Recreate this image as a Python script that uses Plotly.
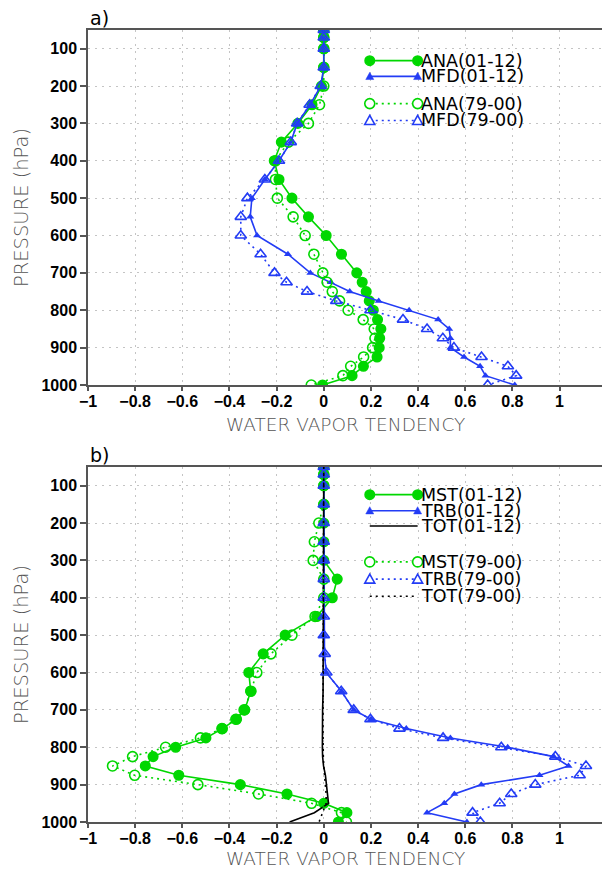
import plotly.graph_objects as go

# ---------------- data ----------------
PRESSURE = [50, 70, 100, 150, 200, 250, 300, 350, 400, 450, 500, 550, 600, 650,
            700, 725, 750, 775, 800, 825, 850, 875, 900, 925, 950, 975, 1000]

# panel a)
ANA_0112 = [0, 0, 0, 0, -0.01, -0.05, -0.11, -0.18, -0.21, -0.19, -0.135, -0.065, 0.01, 0.075,
            0.14, 0.163, 0.18, 0.193, 0.21, 0.228, 0.242, 0.237, 0.235, 0.226, 0.168, 0.12, -0.005]
MFD_0112 = [0, 0, 0, 0, -0.013, -0.058, -0.113, -0.14, -0.19, -0.25, -0.305, -0.312, -0.283, -0.152,
            -0.057, 0.03, 0.11, 0.233, 0.362, 0.485, 0.532, 0.537, 0.537, 0.595, 0.663, 0.686, 0.81]
ANA_7900 = [0, 0, 0, 0, 0, -0.018, -0.065, -0.15, -0.205, -0.205, -0.197, -0.13, -0.079, -0.042,
            -0.004, 0.014, 0.036, 0.067, 0.103, 0.167, 0.214, 0.217, 0.207, 0.169, 0.114, 0.081, -0.053]
MFD_7900 = [0, 0, 0, 0, -0.013, -0.06, -0.113, -0.14, -0.19, -0.25, -0.324, -0.352, -0.352, -0.268,
            -0.209, -0.158, -0.071, 0.053, 0.198, 0.336, 0.438, 0.505, 0.552, 0.669, 0.781, 0.816, 0.695]

# panel b)
MST_0112 = [0, 0, 0, 0, 0, 0, 0, 0.057, 0.036, -0.03, -0.164, -0.257, -0.318, -0.31,
            -0.335, -0.37, -0.43, -0.5, -0.628, -0.724, -0.757, -0.615, -0.354, -0.156, 0.0, 0.098, 0.062]
TRB_0112 = [0, 0, 0, 0, 0, 0, 0, 0, 0, 0, 0, 0.003, 0.01, 0.075,
            0.127, 0.2, 0.35, 0.537, 0.78, 0.975, 1.038, 0.915, 0.668, 0.554, 0.511, 0.438, 0.607]
TOT_0112 = [0, 0, 0, 0, 0, 0, 0, 0, 0, 0, 0, 0, 0, -0.003,
            -0.005, -0.006, -0.007, -0.007, -0.006, -0.005, -0.001, 0.007, 0.012, 0.018, 0.02, -0.04, -0.145]
MST_7900 = [0, 0, 0, 0, -0.021, -0.04, -0.045, 0.0, 0.0, -0.037, -0.135, -0.224, -0.284, -0.309,
            -0.338, -0.373, -0.432, -0.523, -0.671, -0.811, -0.896, -0.802, -0.534, -0.277, -0.052, 0.075, 0.096]
TRB_7900 = [0, 0, 0, 0, 0, 0, 0, 0, 0, 0, 0, 0.004, 0.011, 0.074,
            0.127, 0.198, 0.321, 0.506, 0.753, 0.982, 1.112, 1.085, 0.897, 0.795, 0.746, 0.631, 0.664]
TOT_7900 = [0, 0, 0, 0, 0, 0, 0, 0, 0, 0, 0, 0, 0, -0.002,
            -0.003, -0.004, -0.004, -0.004, -0.003, -0.002, 0.0, 0.004, 0.008, 0.01, 0.01, -0.005, -0.02]

X_TICKS = [-1, -0.8, -0.6, -0.4, -0.2, 0, 0.2, 0.4, 0.6, 0.8, 1]
Y_TICKS = [100, 200, 300, 400, 500, 600, 700, 800, 900, 1000]

X_TITLE = "WATER VAPOR TENDENCY"
Y_TITLE = "PRESSURE (hPa)"
LEG_A = ["ANA(01-12)", "MFD(01-12)", "ANA(79-00)", "MFD(79-00)"]
LEG_B = ["MST(01-12)", "TRB(01-12)", "TOT(01-12)", "MST(79-00)", "TRB(79-00)", "TOT(79-00)"]

# ---------------- style ----------------
GREEN = "rgb(0,215,0)"
BLUE = "rgb(35,60,245)"
BLACK = "black"
DOTS = "2px,4px"
W, H = 602, 869
DOM_A = [(H - 385) / H, (H - 30) / H]
DOM_B = [(H - 822) / H, (H - 467) / H]

fig = go.Figure()

def series(x, name, color, kind, filled, dash, xa, ya):
    if kind == "line":
        mode, marker = "lines", None
    else:
        mode = "lines+markers"
        if kind == "circle":
            marker = dict(symbol="circle" if filled else "circle-open", size=9.5 if filled else 10,
                          color=color, line=dict(width=1.6, color=color))
        else:
            marker = dict(symbol="triangle-up" if filled else "triangle-up-open", size=7 if filled else 10,
                          color=color, line=dict(width=1.6 if not filled else 0, color=color))
    fig.add_trace(go.Scatter(x=x, y=PRESSURE, name=name, mode=mode, marker=marker,
                             line=dict(color=color, width=1.6, dash=dash),
                             xaxis=xa, yaxis=ya, showlegend=False, cliponaxis=True))

series(ANA_0112, LEG_A[0], GREEN, "circle", True, "solid", "x", "y")
series(MFD_0112, LEG_A[1], BLUE, "tri", True, "solid", "x", "y")
series(ANA_7900, LEG_A[2], GREEN, "circle", False, DOTS, "x", "y")
series(MFD_7900, LEG_A[3], BLUE, "tri", False, DOTS, "x", "y")

series(MST_0112, LEG_B[0], GREEN, "circle", True, "solid", "x2", "y2")
series(TRB_0112, LEG_B[1], BLUE, "tri", True, "solid", "x2", "y2")
series(TOT_0112, LEG_B[2], BLACK, "line", True, "solid", "x2", "y2")
series(MST_7900, LEG_B[3], GREEN, "circle", False, DOTS, "x2", "y2")
series(TRB_7900, LEG_B[4], BLUE, "tri", False, DOTS, "x2", "y2")
series(TOT_7900, LEG_B[5], BLACK, "line", False, DOTS, "x2", "y2")

# ---------------- manual legends (GrADS style: markers at both line ends) ----------------
shapes, annots = [], []
LX0, LX1, LTX = 0.195, 0.398, 0.408

def legend_entry(xr, yr, p, text, color, kind, filled, dash):
    shapes.append(dict(type="line", xref=xr, yref=yr, x0=LX0, x1=LX1, y0=p, y1=p,
                       line=dict(color=color, width=1.6, dash=dash), layer="above"))
    if kind != "line":
        for xe in (LX0, LX1):
            if kind == "circle":
                r = 4.7 if filled else 5
                shapes.append(dict(type="circle", xref=xr, yref=yr, xsizemode="pixel", ysizemode="pixel",
                                   xanchor=xe, yanchor=p, x0=-r, x1=r, y0=-r, y1=r,
                                   fillcolor=color if filled else "white",
                                   line=dict(color=color, width=1.6), layer="above"))
            else:
                s = 4 if filled else 5
                path = f"M{-s},{-s*0.8} L{s},{-s*0.8} L0,{s*1.0} Z"
                shapes.append(dict(type="path", xref=xr, yref=yr, xsizemode="pixel", ysizemode="pixel",
                                   xanchor=xe, yanchor=p, path=path,
                                   fillcolor=color if filled else "white",
                                   line=dict(color=color, width=1.6 if not filled else 0.5), layer="above"))
    annots.append(dict(xref=xr, yref=yr, x=LTX, y=p, text=text, showarrow=False, xanchor="left",
                       yanchor="middle", borderpad=0,
                       font=dict(family="DejaVu Sans", size=17.5, color="black")))

LEG_A_P = [132, 174, 247, 292]
legend_entry("x", "y", LEG_A_P[0], LEG_A[0], GREEN, "circle", True, "solid")
legend_entry("x", "y", LEG_A_P[1], LEG_A[1], BLUE, "tri", True, "solid")
legend_entry("x", "y", LEG_A_P[2], LEG_A[2], GREEN, "circle", False, DOTS)
legend_entry("x", "y", LEG_A_P[3], LEG_A[3], BLUE, "tri", False, DOTS)

LEG_B_P = [124, 167, 208, 304, 350, 396]
legend_entry("x2", "y2", LEG_B_P[0], LEG_B[0], GREEN, "circle", True, "solid")
legend_entry("x2", "y2", LEG_B_P[1], LEG_B[1], BLUE, "tri", True, "solid")
legend_entry("x2", "y2", LEG_B_P[2], LEG_B[2], BLACK, "line", True, "solid")
legend_entry("x2", "y2", LEG_B_P[3], LEG_B[3], GREEN, "circle", False, DOTS)
legend_entry("x2", "y2", LEG_B_P[4], LEG_B[4], BLUE, "tri", False, DOTS)
legend_entry("x2", "y2", LEG_B_P[5], LEG_B[5], BLACK, "line", False, DOTS)

# panel labels
for lab, dom in (("a)", DOM_A), ("b)", DOM_B)):
    annots.append(dict(xref="paper", yref="paper", x=0.0, y=dom[1], text=lab, showarrow=False,
                       xanchor="left", yanchor="bottom", xshift=0, yshift=-1,
                       font=dict(family="DejaVu Sans", size=19, color="black")))

titlefont = dict(family="DejaVu Sans", size=18.5, color="#555555", weight=300)

# x-axis titles (placed below the tick labels of each panel)
for xa, ypx in (("x", 424), ("x2", 858)):
    annots.append(dict(xref=f"{xa} domain", yref="paper", x=0.5, y=(H - ypx) / H, text=X_TITLE,
                       showarrow=False, xanchor="center", yanchor="middle", borderpad=0,
                       font=titlefont))

# ---------------- axes ----------------
tickfont = dict(family="Liberation Sans", size=16, color="black", weight="bold")

def xaxis(anchor):
    return dict(anchor=anchor, domain=[0, 1], range=[-1, 1.18], tickvals=X_TICKS,
                showgrid=True, gridcolor="#c4c4c4", griddash="2px,5px", gridwidth=1.2,
                zeroline=False, showline=True, linecolor="#555555", linewidth=1.5, mirror=True,
                ticks="outside", ticklen=4, tickwidth=1.5, tickcolor="#555555",
                ticklabelstandoff=-3,
                tickfont=tickfont, automargin=False)

def yaxis(anchor, dom):
    return dict(anchor=anchor, domain=dom, range=[1000, 50], tickvals=Y_TICKS,
                showgrid=True, gridcolor="#c4c4c4", griddash="2px,5px", gridwidth=1.2,
                zeroline=False, showline=True, linecolor="#555555", linewidth=1.5,
                ticks="outside", ticklen=6, tickwidth=1.5, tickcolor="#555555",
                tickfont=tickfont, automargin=False,
                title=dict(text=Y_TITLE, font=dict(titlefont, size=19.5), standoff=8))

fig.update_layout(
    width=W, height=H,
    margin=dict(l=88, r=0, t=0, b=0),
    paper_bgcolor="white", plot_bgcolor="white",
    showlegend=False,
    xaxis=xaxis("y"), yaxis=yaxis("x", DOM_A),
    xaxis2=xaxis("y2"), yaxis2=yaxis("x2", DOM_B),
    shapes=shapes, annotations=annots,
)

fig.write_html("out.html", config={"displayModeBar": False},
               post_script="document.body.style.margin='0px';document.body.style.padding='0px';")
